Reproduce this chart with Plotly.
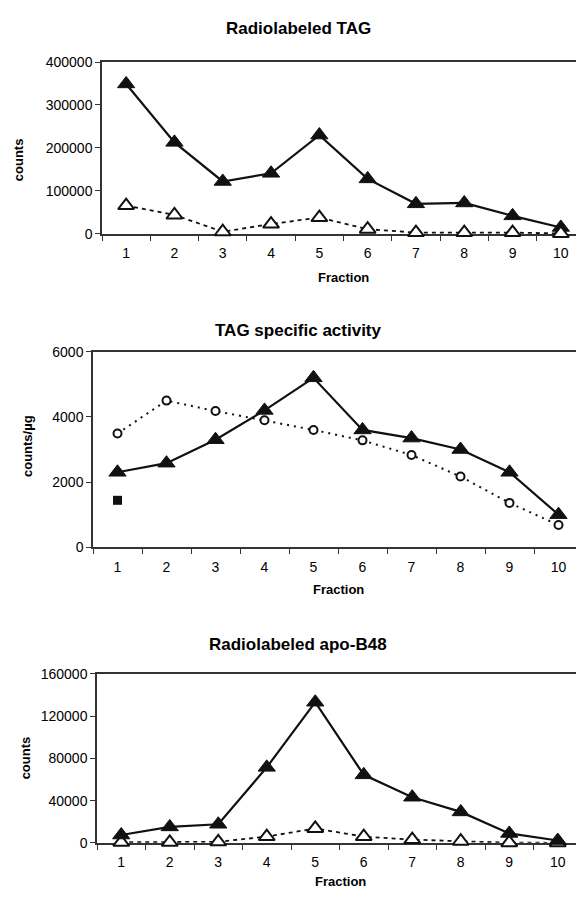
import plotly.graph_objects as go

fractions = ["1", "2", "3", "4", "5", "6", "7", "8", "9", "10"]

# Panel 1: Radiolabeled TAG (counts)
tag_filled = [349000, 213000, 122000, 141000, 230000, 128000, 70000, 72000, 42000, 15000]
tag_open = [66000, 44000, 5000, 23000, 38000, 11000, 3000, 3000, 3000, 1000]

# Panel 2: TAG specific activity (counts/µg)
sa_filled = [2300, 2580, 3300, 4200, 5200, 3600, 3350, 3000, 2300, 1000]
sa_open = [3490, 4500, 4180, 3900, 3600, 3280, 2830, 2170, 1360, 680]
sa_square_x = ["1"]
sa_square = [1440]

# Panel 3: Radiolabeled apo-B48 (counts)
apo_filled = [7400, 15100, 17600, 71500, 133200, 64400, 43200, 29300, 8900, 2200]
apo_open = [500, 500, 1000, 5900, 13600, 5900, 3100, 1500, 200, 0]

titles = ["Radiolabeled TAG", "TAG specific activity", "Radiolabeled apo-B48"]
ytitles = ["counts", "counts/µg", "counts"]
yranges = [[0, 400000], [0, 6000], [0, 160000]]
ydticks = [100000, 2000, 40000]

W, H = 576, 897
FONT = "Liberation Sans, Arial, sans-serif"
INK = "#111111"

# pixel layout (left edge, top, bottom, category width)
panels = [
    dict(left=102, top=55, bottom=230, cw=48.3, title_y=21, ytitle_x=18, ytitle_y=155, frac_y=274, frac_x=343),
    dict(left=93, top=350, bottom=549, cw=49.0, title_y=328, ytitle_x=27, ytitle_y=446, frac_y=592, frac_x=338),
    dict(left=97, top=678, bottom=850, cw=48.5, title_y=648, ytitle_x=25, ytitle_y=764, frac_y=889, frac_x=340),
]

fig = go.Figure()

def px(x):
    return x / W

def py(y):
    return 1 - y / H

series = [
    [(tag_filled, "filled", fractions), (tag_open, "open", fractions)],
    [(sa_open, "circle", fractions), (sa_filled, "filled", fractions), (sa_square, "square", sa_square_x)],
    [(apo_open, "open", fractions), (apo_filled, "filled", fractions)],
]

for i, p in enumerate(panels):
    xa = "x" if i == 0 else f"x{i+1}"
    ya = "y" if i == 0 else f"y{i+1}"
    for vals, kind, xs in series[i]:
        if kind == "filled":
            tr = go.Scatter(x=xs, y=vals, mode="lines+markers",
                            line=dict(color=INK, width=2.2),
                            marker=dict(symbol="triangle-up", size=15, color=INK,
                                        line=dict(color=INK, width=1)))
        elif kind == "open":
            tr = go.Scatter(x=xs, y=vals, mode="lines+markers",
                            line=dict(color=INK, width=1.8, dash="4px,4px"),
                            marker=dict(symbol="triangle-up", size=14, color="white",
                                        line=dict(color=INK, width=2)))
        elif kind == "circle":
            tr = go.Scatter(x=xs, y=vals, mode="lines+markers",
                            line=dict(color=INK, width=2, dash="2px,5px"),
                            marker=dict(symbol="circle", size=8, color="white",
                                        line=dict(color=INK, width=2)))
        else:
            tr = go.Scatter(x=xs, y=vals, mode="markers",
                            marker=dict(symbol="square", size=9, color=INK,
                                        line=dict(color=INK, width=0)))
        tr.update(xaxis=xa, yaxis=ya, showlegend=False, cliponaxis=False, hoverinfo="x+y")
        fig.add_trace(tr)

    xend = -0.5 + (W - p["left"]) / p["cw"]
    xkey = "xaxis" if i == 0 else f"xaxis{i+1}"
    ykey = "yaxis" if i == 0 else f"yaxis{i+1}"
    fig.update_layout(**{
        xkey: dict(
            type="category", domain=[px(p["left"]), 1], anchor=ya,
            range=[-0.5, xend], tickson="boundaries",
            showline=True, linecolor="#333333", linewidth=1.5, mirror=True,
            ticks="outside", ticklen=5, tickcolor="#333333", tickwidth=1,
            showgrid=False, zeroline=False, layer="below traces",
            tickfont=dict(family=FONT, size=14, color="black"),
            ticklabelstandoff=6, fixedrange=True,
        ),
        ykey: dict(
            domain=[py(p["bottom"]), py(p["top"])], anchor=xa,
            range=yranges[i], dtick=ydticks[i], tick0=0,
            showline=True, linecolor="#333333", linewidth=1.5,
            ticks="outside", ticklen=5, tickcolor="#333333", tickwidth=1,
            showgrid=False, zeroline=False, layer="below traces",
            tickfont=dict(family=FONT, size=14, color="black"),
            tickformat="d", fixedrange=True,
        ),
    })

    fig.add_annotation(text=f"<b>{titles[i]}</b>", xref="paper", yref="paper",
                       x=px(298), y=py(p["title_y"]), xanchor="center", yanchor="middle",
                       showarrow=False, font=dict(family=FONT, size=17, color="black"))
    fig.add_annotation(text=f"<b>{ytitles[i]}</b>", xref="paper", yref="paper",
                       x=px(p["ytitle_x"]), y=py(p["ytitle_y"]), xanchor="center", yanchor="middle",
                       textangle=-90, showarrow=False,
                       font=dict(family=FONT, size=13, color="black"))
    fig.add_annotation(text="<b>Fraction</b>", xref="paper", yref="paper",
                       x=px(p["frac_x"]), y=py(p["frac_y"]), xanchor="center", yanchor="middle",
                       showarrow=False, font=dict(family=FONT, size=13, color="black"))

fig.update_layout(
    width=W, height=H,
    margin=dict(l=0, r=0, t=0, b=0),
    paper_bgcolor="white", plot_bgcolor="white",
    font=dict(family=FONT, color="black"),
)

fig.write_html(
    "out.html",
    config={"displayModeBar": False},
    post_script="document.body.style.margin='0';document.body.style.overflow='hidden';",
)
